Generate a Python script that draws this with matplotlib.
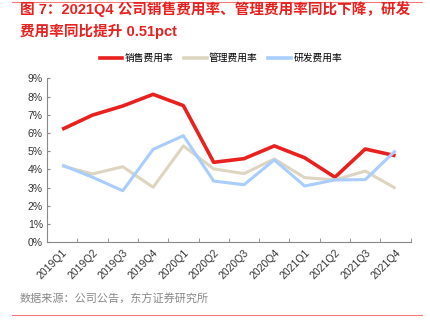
import numpy as np
import matplotlib
matplotlib.use('Agg')
import matplotlib.pyplot as plt
from matplotlib.lines import Line2D

plt.rcParams['font.family'] = ['Noto Sans CJK SC', 'DejaVu Sans']

#------------------ datos ------------------
quarters = ['2019Q1', '2019Q2', '2019Q3', '2019Q4', '2020Q1', '2020Q2',
            '2020Q3', '2020Q4', '2021Q1', '2021Q2', '2021Q3', '2021Q4']
sales = [6.20, 6.98, 7.48, 8.12, 7.50, 4.39, 4.59, 5.29, 4.64, 3.57, 5.12, 4.75]
admin = [4.19, 3.75, 4.15, 3.02, 5.29, 4.03, 3.77, 4.57, 3.55, 3.42, 3.91, 2.96]
rnd = [4.24, 3.57, 2.83, 5.10, 5.85, 3.36, 3.16, 4.52, 3.09, 3.42, 3.44, 5.03]
names = ['销售费用率', '管理费用率', '研发费用率']
colors = ['#e8201e', '#ddd5bf', '#a9cdfc']
title = '图 7：2021Q4 公司销售费用率、管理费用率同比下降，研发\n费用率同比提升 0.51pct'
source = '数据来源：公司公告，东方证券研究所'

W, H = 431, 333
fig = plt.figure(figsize=(W/100., H/100.), dpi=100)
ax = fig.add_axes([47/W, 1-242.3/H, 363.7/W, 164/H])

x = np.arange(len(quarters))
for vals, c in zip([sales, admin, rnd], colors):
    ax.plot(x, vals, color=c, lw=2.6 if c == colors[0] else 2.2, solid_capstyle='butt')

ax.set_xlim(-0.5, len(quarters)-0.5)
ax.set_ylim(0, 9)
ax.set_yticks(range(0, 10))
ax.set_yticklabels(['%d%%' % v for v in range(0, 10)], fontsize=7.5, color='#333333',
                   family=['Liberation Sans', 'DejaVu Sans'])
ax.set_xticks(x)
ax.set_xticklabels(quarters, rotation=45, ha='right', rotation_mode='anchor', fontsize=7.5,
                   color='#333333', family=['Liberation Sans', 'DejaVu Sans'])
ax.tick_params(axis='x', length=0, pad=4)
ax.set_xticks(np.arange(-0.5, len(quarters)), minor=True)
ax.tick_params(axis='x', which='minor', direction='in', length=3, color='#888888')
ax.tick_params(axis='y', direction='in', length=2, color='#888888', pad=3)
for s in ['top', 'right']:
    ax.spines[s].set_visible(False)
for s in ['left', 'bottom']:
    ax.spines[s].set_color('#888888')
    ax.spines[s].set_linewidth(0.8)

handles = [Line2D([0], [0], color=c, lw=2.6) for c in colors]
fig.legend(handles, names, loc='center', bbox_to_anchor=(221/W, 1-58/H), ncol=3,
           frameon=False, fontsize=7, handlelength=2.3, handletextpad=0.25, columnspacing=1.1)

fig.text(20/W, 1-20/H, title, color='#e8201e', fontsize=10.5, fontweight='bold',
         va='center', ha='left', linespacing=1.5,
         family=['Liberation Sans', 'Noto Sans CJK SC'])
fig.text(20/W, 1-299/H, source, color='#888888', fontsize=8, va='center', ha='left')
fig.add_artist(Line2D([12/W, 422/W], [1-2/H, 1-2/H], color='#e8201e', lw=0.8, alpha=0.6))
fig.add_artist(Line2D([12/W, 422/W], [1-315/H, 1-315/H], color='#e8201e', lw=0.8, alpha=0.6))

fig.savefig('out.png', dpi=100)
